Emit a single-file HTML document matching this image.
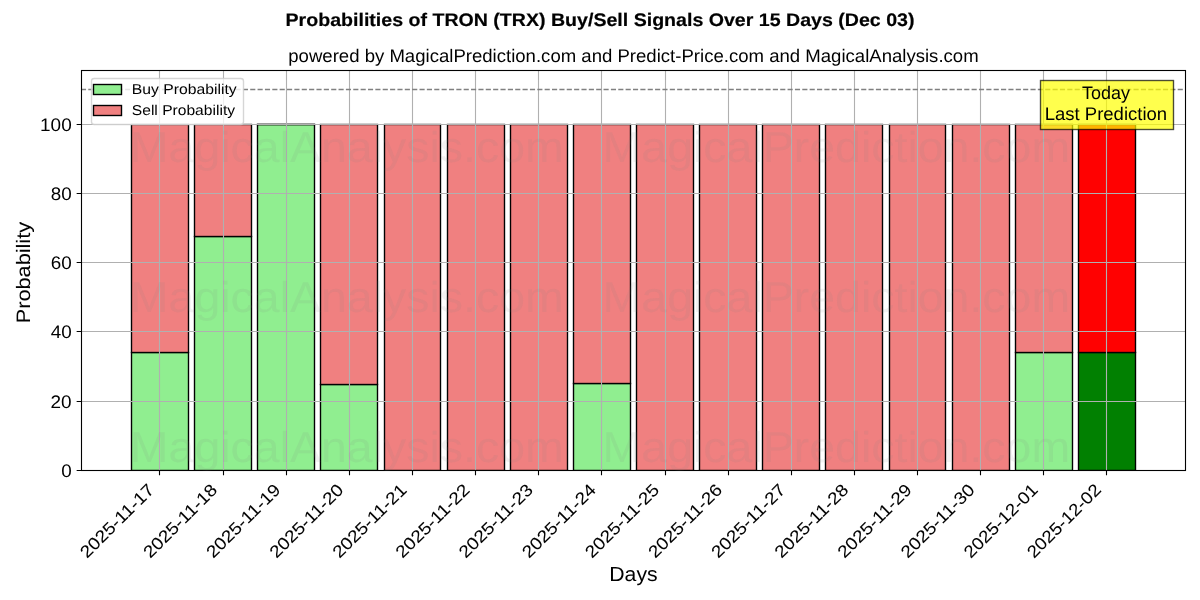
<!DOCTYPE html>
<html><head><meta charset="utf-8"><title>Probabilities of TRON (TRX) Buy/Sell Signals</title>
<style>
html,body{margin:0;padding:0;background:#fff;}
body{width:1200px;height:600px;overflow:hidden;font-family:"Liberation Sans",sans-serif;}
svg{display:block;}
svg text{font-family:"Liberation Sans",sans-serif;text-rendering:geometricPrecision;white-space:pre;}
</style></head><body>
<svg width="1200" height="600" viewBox="0 0 1200 600">
<rect width="1200" height="600" fill="#fff"/>
<g opacity="0.999">
<clipPath id="axclip"><rect x="81" y="70" width="1104.5" height="400.5"/></clipPath>
<g clip-path="url(#axclip)">
<rect x="131.5" y="352.5" width="57.0" height="118.0" fill="#90ee90" stroke="#000" stroke-width="1.389"/>
<rect x="194.5" y="236.5" width="57.0" height="234.0" fill="#90ee90" stroke="#000" stroke-width="1.389"/>
<rect x="257.5" y="124.5" width="57.0" height="346.0" fill="#90ee90" stroke="#000" stroke-width="1.389"/>
<rect x="320.5" y="384.5" width="57.0" height="86.0" fill="#90ee90" stroke="#000" stroke-width="1.389"/>
<line x1="384.5" y1="470.5" x2="440.5" y2="470.5" stroke="#000" stroke-width="1.389" stroke-linecap="square"/>
<line x1="447.5" y1="470.5" x2="504.5" y2="470.5" stroke="#000" stroke-width="1.389" stroke-linecap="square"/>
<line x1="510.5" y1="470.5" x2="567.5" y2="470.5" stroke="#000" stroke-width="1.389" stroke-linecap="square"/>
<rect x="573.5" y="383.5" width="57.0" height="87.0" fill="#90ee90" stroke="#000" stroke-width="1.389"/>
<line x1="636.5" y1="470.5" x2="693.5" y2="470.5" stroke="#000" stroke-width="1.389" stroke-linecap="square"/>
<line x1="699.5" y1="470.5" x2="756.5" y2="470.5" stroke="#000" stroke-width="1.389" stroke-linecap="square"/>
<line x1="762.5" y1="470.5" x2="819.5" y2="470.5" stroke="#000" stroke-width="1.389" stroke-linecap="square"/>
<line x1="825.5" y1="470.5" x2="882.5" y2="470.5" stroke="#000" stroke-width="1.389" stroke-linecap="square"/>
<line x1="889.5" y1="470.5" x2="945.5" y2="470.5" stroke="#000" stroke-width="1.389" stroke-linecap="square"/>
<line x1="952.5" y1="470.5" x2="1009.5" y2="470.5" stroke="#000" stroke-width="1.389" stroke-linecap="square"/>
<rect x="1015.5" y="352.5" width="57.0" height="118.0" fill="#90ee90" stroke="#000" stroke-width="1.389"/>
<rect x="131.5" y="124.5" width="57.0" height="228.0" fill="#f08080" stroke="#000" stroke-width="1.389"/>
<rect x="194.5" y="124.5" width="57.0" height="112.0" fill="#f08080" stroke="#000" stroke-width="1.389"/>
<line x1="257.5" y1="124.5" x2="314.5" y2="124.5" stroke="#000" stroke-width="1.389" stroke-linecap="square"/>
<rect x="320.5" y="124.5" width="57.0" height="260.0" fill="#f08080" stroke="#000" stroke-width="1.389"/>
<rect x="384.5" y="124.5" width="56.0" height="346.0" fill="#f08080" stroke="#000" stroke-width="1.389"/>
<rect x="447.5" y="124.5" width="57.0" height="346.0" fill="#f08080" stroke="#000" stroke-width="1.389"/>
<rect x="510.5" y="124.5" width="57.0" height="346.0" fill="#f08080" stroke="#000" stroke-width="1.389"/>
<rect x="573.5" y="124.5" width="57.0" height="259.0" fill="#f08080" stroke="#000" stroke-width="1.389"/>
<rect x="636.5" y="124.5" width="57.0" height="346.0" fill="#f08080" stroke="#000" stroke-width="1.389"/>
<rect x="699.5" y="124.5" width="57.0" height="346.0" fill="#f08080" stroke="#000" stroke-width="1.389"/>
<rect x="762.5" y="124.5" width="57.0" height="346.0" fill="#f08080" stroke="#000" stroke-width="1.389"/>
<rect x="825.5" y="124.5" width="57.0" height="346.0" fill="#f08080" stroke="#000" stroke-width="1.389"/>
<rect x="889.5" y="124.5" width="56.0" height="346.0" fill="#f08080" stroke="#000" stroke-width="1.389"/>
<rect x="952.5" y="124.5" width="57.0" height="346.0" fill="#f08080" stroke="#000" stroke-width="1.389"/>
<rect x="1015.5" y="124.5" width="57.0" height="228.0" fill="#f08080" stroke="#000" stroke-width="1.389"/>
<rect x="1078.5" y="352.5" width="57.0" height="118.0" fill="#008000" stroke="#000" stroke-width="1.389"/>
<rect x="1078.5" y="124.5" width="57.0" height="228.0" fill="#ff0000" stroke="#000" stroke-width="1.389"/>
<path d="M159.5 70.5V470.5M223.5 70.5V470.5M286.5 70.5V470.5M349.5 70.5V470.5M412.5 70.5V470.5M475.5 70.5V470.5M538.5 70.5V470.5M601.5 70.5V470.5M665.5 70.5V470.5M728.5 70.5V470.5M791.5 70.5V470.5M854.5 70.5V470.5M917.5 70.5V470.5M980.5 70.5V470.5M1043.5 70.5V470.5M1106.5 70.5V470.5M81.5 470.5H1185.5M81.5 401.5H1185.5M81.5 331.5H1185.5M81.5 262.5H1185.5M81.5 193.5H1185.5M81.5 124.5H1185.5" stroke="#b0b0b0" stroke-width="1.111" fill="none"/>
<line x1="80.9" y1="89.5" x2="1185" y2="89.5" stroke="#808080" stroke-width="1.389" stroke-dasharray="5.139 2.222"/>
</g>
<path d="M159.5 470.5v4.86M223.5 470.5v4.86M286.5 470.5v4.86M349.5 470.5v4.86M412.5 470.5v4.86M475.5 470.5v4.86M538.5 470.5v4.86M601.5 470.5v4.86M665.5 470.5v4.86M728.5 470.5v4.86M791.5 470.5v4.86M854.5 470.5v4.86M917.5 470.5v4.86M980.5 470.5v4.86M1043.5 470.5v4.86M1106.5 470.5v4.86M81.5 470.5h-4.86M81.5 401.5h-4.86M81.5 331.5h-4.86M81.5 262.5h-4.86M81.5 193.5h-4.86M81.5 124.5h-4.86" stroke="#000" stroke-width="1.111" fill="none"/>
<rect x="81.5" y="70.5" width="1104.0" height="400.0" fill="none" stroke="#000" stroke-width="1.111"/>
<text transform="translate(87.02 559.03) rotate(-45)" font-size="17.17" fill="#000000" textLength="96.38" lengthAdjust="spacingAndGlyphs" xml:space="preserve" stroke="#000000" stroke-width="0.06">2025-11-17</text>
<text transform="translate(150.15 559.03) rotate(-45)" font-size="17.17" fill="#000000" textLength="96.38" lengthAdjust="spacingAndGlyphs" xml:space="preserve" stroke="#000000" stroke-width="0.06">2025-11-18</text>
<text transform="translate(213.28 559.03) rotate(-45)" font-size="17.17" fill="#000000" textLength="96.38" lengthAdjust="spacingAndGlyphs" xml:space="preserve" stroke="#000000" stroke-width="0.06">2025-11-19</text>
<text transform="translate(276.40 559.03) rotate(-45)" font-size="17.17" fill="#000000" textLength="96.38" lengthAdjust="spacingAndGlyphs" xml:space="preserve" stroke="#000000" stroke-width="0.06">2025-11-20</text>
<text transform="translate(339.44 559.12) rotate(-45)" font-size="17.17" fill="#000000" textLength="96.50" lengthAdjust="spacingAndGlyphs" xml:space="preserve" stroke="#000000" stroke-width="0.06">2025-11-21</text>
<text transform="translate(402.57 559.12) rotate(-45)" font-size="17.17" fill="#000000" textLength="96.50" lengthAdjust="spacingAndGlyphs" xml:space="preserve" stroke="#000000" stroke-width="0.06">2025-11-22</text>
<text transform="translate(465.70 559.12) rotate(-45)" font-size="17.17" fill="#000000" textLength="96.50" lengthAdjust="spacingAndGlyphs" xml:space="preserve" stroke="#000000" stroke-width="0.06">2025-11-23</text>
<text transform="translate(528.91 559.03) rotate(-45)" font-size="17.17" fill="#000000" textLength="96.38" lengthAdjust="spacingAndGlyphs" xml:space="preserve" stroke="#000000" stroke-width="0.06">2025-11-24</text>
<text transform="translate(592.04 559.03) rotate(-45)" font-size="17.17" fill="#000000" textLength="96.38" lengthAdjust="spacingAndGlyphs" xml:space="preserve" stroke="#000000" stroke-width="0.06">2025-11-25</text>
<text transform="translate(655.17 559.03) rotate(-45)" font-size="17.17" fill="#000000" textLength="96.38" lengthAdjust="spacingAndGlyphs" xml:space="preserve" stroke="#000000" stroke-width="0.06">2025-11-26</text>
<text transform="translate(718.29 559.03) rotate(-45)" font-size="17.17" fill="#000000" textLength="96.38" lengthAdjust="spacingAndGlyphs" xml:space="preserve" stroke="#000000" stroke-width="0.06">2025-11-27</text>
<text transform="translate(781.42 559.03) rotate(-45)" font-size="17.17" fill="#000000" textLength="96.38" lengthAdjust="spacingAndGlyphs" xml:space="preserve" stroke="#000000" stroke-width="0.06">2025-11-28</text>
<text transform="translate(844.55 559.03) rotate(-45)" font-size="17.17" fill="#000000" textLength="96.38" lengthAdjust="spacingAndGlyphs" xml:space="preserve" stroke="#000000" stroke-width="0.06">2025-11-29</text>
<text transform="translate(907.68 559.03) rotate(-45)" font-size="17.17" fill="#000000" textLength="96.38" lengthAdjust="spacingAndGlyphs" xml:space="preserve" stroke="#000000" stroke-width="0.06">2025-11-30</text>
<text transform="translate(970.80 559.03) rotate(-45)" font-size="17.17" fill="#000000" textLength="96.38" lengthAdjust="spacingAndGlyphs" xml:space="preserve" stroke="#000000" stroke-width="0.06">2025-12-01</text>
<text transform="translate(1033.93 559.03) rotate(-45)" font-size="17.17" fill="#000000" textLength="96.38" lengthAdjust="spacingAndGlyphs" xml:space="preserve" stroke="#000000" stroke-width="0.06">2025-12-02</text>
<text transform="translate(609.26 581.00) rotate(-0)" font-size="20.42" fill="#000000" textLength="48.38" lengthAdjust="spacingAndGlyphs" xml:space="preserve">Days</text>
<text transform="translate(61.18 476.76) rotate(-0)" font-size="18.17" fill="#000000" textLength="10.50" lengthAdjust="spacingAndGlyphs" xml:space="preserve">0</text>
<text transform="translate(50.56 407.59) rotate(-0)" font-size="18.17" fill="#000000" textLength="21.12" lengthAdjust="spacingAndGlyphs" xml:space="preserve">20</text>
<text transform="translate(50.68 338.43) rotate(-0)" font-size="18.17" fill="#000000" textLength="21.00" lengthAdjust="spacingAndGlyphs" xml:space="preserve">40</text>
<text transform="translate(50.68 269.26) rotate(-0)" font-size="18.17" fill="#000000" textLength="21.00" lengthAdjust="spacingAndGlyphs" xml:space="preserve">60</text>
<text transform="translate(50.68 200.10) rotate(-0)" font-size="18.17" fill="#000000" textLength="21.00" lengthAdjust="spacingAndGlyphs" xml:space="preserve">80</text>
<text transform="translate(40.06 130.94) rotate(-0)" font-size="18.17" fill="#000000" textLength="31.62" lengthAdjust="spacingAndGlyphs" xml:space="preserve">100</text>
<text transform="translate(30.00 323.17) rotate(-90)" font-size="19.44" fill="#000000" textLength="101.19" lengthAdjust="spacingAndGlyphs" xml:space="preserve" stroke="#000000" stroke-width="0.04">Probability</text>
<text transform="translate(288.26 62.00) rotate(-0)" font-size="18.17" fill="#000000" textLength="690.38" lengthAdjust="spacingAndGlyphs" xml:space="preserve">powered by MagicalPrediction.com and Predict-Price.com and MagicalAnalysis.com</text>
<rect x="1040.5" y="80.5" width="133" height="49" fill="#ffff00" fill-opacity="0.7" stroke="#000" stroke-opacity="0.7" stroke-width="1.389"/>
<text transform="translate(1081.91 99.14) rotate(-0)" font-size="18.17" fill="#000000" textLength="48.00" lengthAdjust="spacingAndGlyphs" xml:space="preserve">Today</text>
<text transform="translate(1044.66 119.94) rotate(-0)" font-size="18.17" fill="#000000" textLength="122.50" lengthAdjust="spacingAndGlyphs" xml:space="preserve">Last Prediction</text>
<rect x="91.5" y="78.5" width="152" height="46" rx="2.8" ry="2.8" fill="#fff" fill-opacity="0.8" stroke="#ccc" stroke-opacity="0.8" stroke-width="1.389"/>
<rect x="93.5" y="84.5" width="28" height="10" fill="#90ee90" stroke="#000" stroke-width="1.389"/>
<rect x="93.5" y="105.5" width="28" height="10" fill="#f08080" stroke="#000" stroke-width="1.389"/>
<text transform="translate(131.79 93.83) rotate(-0)" font-size="14.31" fill="#000000" textLength="104.88" lengthAdjust="spacingAndGlyphs" xml:space="preserve">Buy Probability</text>
<text transform="translate(131.79 114.78) rotate(-0)" font-size="14.31" fill="#000000" textLength="103.25" lengthAdjust="spacingAndGlyphs" xml:space="preserve">Sell Probability</text>
<text transform="translate(285.56 26.00) rotate(-0)" font-size="18.17" font-weight="bold" fill="#000000" textLength="628.88" lengthAdjust="spacingAndGlyphs" xml:space="preserve" stroke="#000000" stroke-width="0.2">Probabilities of TRON (TRX) Buy/Sell Signals Over 15 Days (Dec 03)</text>
<text transform="translate(129.81 462.00) rotate(-0)" font-size="43.12" fill="#808080" fill-opacity="0.1" textLength="940.38" lengthAdjust="spacingAndGlyphs" xml:space="preserve">MagicalAnalysis.com   MagicalPrediction.com</text>
<text transform="translate(129.81 312.00) rotate(-0)" font-size="43.12" fill="#808080" fill-opacity="0.1" textLength="940.38" lengthAdjust="spacingAndGlyphs" xml:space="preserve">MagicalAnalysis.com   MagicalPrediction.com</text>
<text transform="translate(129.81 162.00) rotate(-0)" font-size="43.12" fill="#808080" fill-opacity="0.1" textLength="940.38" lengthAdjust="spacingAndGlyphs" xml:space="preserve">MagicalAnalysis.com   MagicalPrediction.com</text>
</g>
</svg>
</body></html>
